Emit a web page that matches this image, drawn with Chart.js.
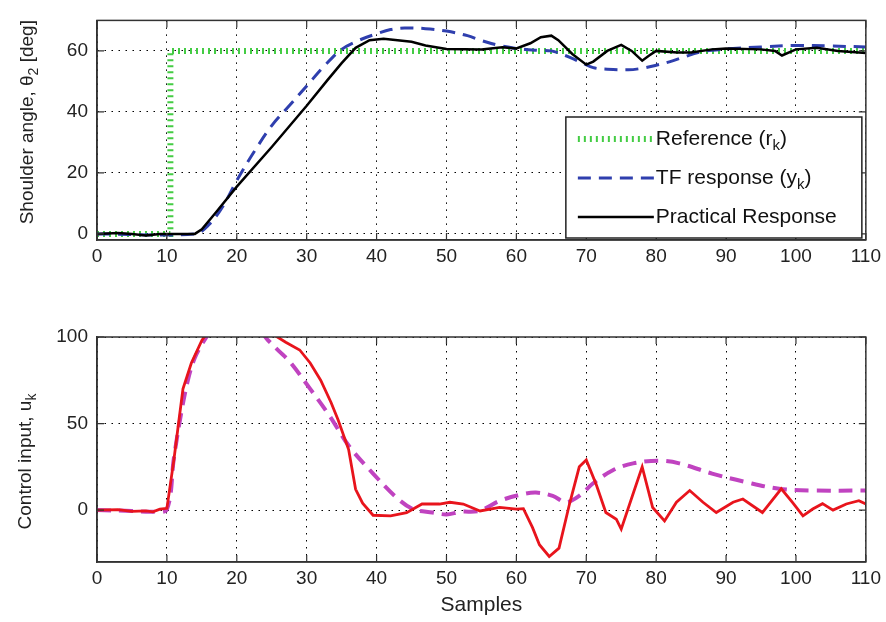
<!DOCTYPE html>
<html><head><meta charset="utf-8">
<script src="https://cdn.jsdelivr.net/npm/chart.js@4.4.0/dist/chart.umd.min.js"></script>
<style>
html,body{margin:0;padding:0;background:#fff;}
#wrap{position:relative;width:886px;height:622px;background:#fff;}
#c1{position:absolute;left:0;top:0;}
#c2{position:absolute;left:0;top:300px;}
</style></head><body>
<div id="wrap">
<canvas id="c1" width="886" height="300"></canvas>
<canvas id="c2" width="886" height="322"></canvas>
</div>
<script>
// ---------- data ----------
const sampleTicks = [0,10,20,30,40,50,60,70,80,90,100,110];
const angleTicks = [0,20,40,60];
const inputTicks = [0,50,100];

const refK   = [0,10.5,10.5,110];
const refVal = [0,0,60,60];

const tfK   = [0,14,16,18,20,22.5,25,27.5,30,32.5,35,37.5,40,42,44,47,50,53,55,57.5,60,63,65,67,69,71,73,76,78,80,82,84,86,88,91,95,100,105,110];
const tfVal = [0,0,3,9,17.5,27,35.5,42,48.5,55,60.5,63.5,65.6,67,67.5,67.3,66.5,65,63.4,61.8,60.8,60.2,60,58.5,56.5,54.5,54,53.8,54.3,55.3,56.5,58,59.5,60.2,60.8,61.3,61.8,61.6,61.3];

const pracK   = [0,3,5,7,9,12,14,15,17,20,25,30,33,35,37,39,41,43,45,47,50,55,58,60,62,63.5,65,66,68,70,71,73,75,76.5,78,79,80,83,85,88,90,95,97,98,100,103,106,110];
const pracVal = [0,0.3,0,-0.5,0,0,0,1.5,7,15.5,28.5,42,50.5,56,61,63.5,64,63.5,63,61.8,60.6,60.5,61.2,60.8,62.5,64.5,65,63.5,59,55.5,56.5,60,62,60,56.8,58.5,60,59.5,59.5,60.5,60.8,60.5,60,58.5,60.5,61,60,59.3];

const uPracK   = [0,3,5,7,8,9,10,10.5,11,11.6,12.3,13.5,15,16,24,25.4,27,29,30.5,32,33.5,34.5,36,37,38,39.5,42,44.3,46.5,49,50.5,52.4,54.8,57.6,60,61,62.3,63.3,64.7,66.1,67.6,69,70,71.4,72.8,74.3,75,76.7,78,79.5,81.2,82.9,84.8,86.7,88.6,91,92.4,95.2,97.9,99.5,101,102.4,103.8,105.3,107.2,109,110];
const uPracVal = [0,0.3,-0.8,-0.5,-1,0.5,1,15,29,48,70,85,98,104,104,101,97,92.5,85,75,62,52,35,12,4,-3,-3.3,-1.5,3.5,3.5,4.5,3.5,-0.5,1.6,0.6,0.8,-10,-20,-26.8,-22,3.5,25,28.9,15,-1.4,-5.3,-11,9.4,25,1.5,-6.3,4.5,11.3,4.5,-1.4,4.5,6.4,-1.4,12.3,4.5,-3.3,0.6,3.7,0,3.5,5.4,3.5];

const uTfK   = [0,5,8,10,11,12,13,14,15.5,16.5,23,24.5,26,27.6,30.5,33.3,36.1,39.5,42.8,45.2,48,50,52,54.7,57.6,60.5,62.8,65.2,67.1,69,70.9,73.8,76.7,80.4,83.3,88,92.8,97.6,102.4,110];
const uTfVal = [0,-0.5,-1,0.5,30,55,75,88,99,104,104,98,92,85.6,70,54.3,36.7,21.1,7.4,0.6,-1.4,-2.5,-1,-0.4,5.3,8.8,10.1,8.2,4.5,8.2,15.2,23,27,28.5,27,21.1,16.2,12.3,11.3,11.3];

const legendLabels = ['Reference (r_k)','TF response (y_k)','Practical Response'];
const topTitle = 'Shoulder angle, \u03b8_2 [deg]';
const bottomTitle = 'Control input, u_k';
const xTitle = 'Samples';

// ---------- helpers ----------
const FAMILY = "'Liberation Sans', Arial, sans-serif";
const pts = (xs, ys) => xs.map((x,i)=>({x, y: ys[i]}));
function parseRich(s){
  const out=[]; let buf='';
  for(let i=0;i<s.length;i++){
    if(s[i]==='_' && i+1<s.length){ if(buf){out.push({t:buf});buf='';} out.push({t:s[i+1],sub:true}); i++; }
    else buf+=s[i];
  }
  if(buf) out.push({t:buf});
  return out;
}
function richWidth(ctx, parts, size){
  let w=0;
  parts.forEach(p=>{ctx.font=(p.sub?Math.round(size*0.72):size)+'px '+FAMILY; w+=ctx.measureText(p.t).width;});
  return w;
}
function drawRich(ctx, parts, x, y, size){
  let cx=x;
  ctx.textBaseline='middle'; ctx.textAlign='left';
  parts.forEach(p=>{
    const fs = p.sub?Math.round(size*0.72):size;
    ctx.font=fs+'px '+FAMILY;
    ctx.fillText(p.t, cx, p.sub? y+size*0.32 : y);
    cx+=ctx.measureText(p.t).width;
  });
}

const frameTicks = {
  id:'frameTicks',
  afterDatasetsDraw(chart){
    const {ctx, chartArea:a, scales} = chart;
    ctx.save();
    ctx.setLineDash([]);
    ctx.strokeStyle='#333'; ctx.lineWidth=1.5;
    ctx.strokeRect(a.left, a.top, a.right-a.left, a.bottom-a.top);
    ctx.lineWidth=1.2;
    const L=7;
    scales.x.ticks.forEach(t=>{
      const px=scales.x.getPixelForValue(t.value);
      ctx.beginPath(); ctx.moveTo(px,a.bottom); ctx.lineTo(px,a.bottom-L);
      ctx.moveTo(px,a.top); ctx.lineTo(px,a.top+L); ctx.stroke();
    });
    scales.y.ticks.forEach(t=>{
      const py=scales.y.getPixelForValue(t.value);
      ctx.beginPath(); ctx.moveTo(a.left,py); ctx.lineTo(a.left+L,py);
      ctx.moveTo(a.right,py); ctx.lineTo(a.right-L,py); ctx.stroke();
    });
    ctx.restore();
  }
};

const yTitlePlugin = {
  id:'yTitle',
  afterDraw(chart, args, opts){
    if(!opts || !opts.text) return;
    const {ctx, chartArea:a} = chart;
    const parts = parseRich(opts.text);
    const size = opts.size;
    const w = richWidth(ctx, parts, size);
    ctx.save();
    ctx.fillStyle='#222';
    ctx.translate(opts.x, (a.top+a.bottom)/2 + (opts.dy||0));
    ctx.rotate(-Math.PI/2);
    drawRich(ctx, parts, -w/2, 0, size);
    ctx.restore();
  }
};

const boxLegend = {
  id:'boxLegend',
  afterDraw(chart, args, opts){
    if(!opts || !opts.items) return;
    const {ctx, chartArea:a} = chart;
    const right = a.right - opts.inset.right, bottom = a.bottom - opts.inset.bottom;
    const left = right - opts.width, top = bottom - opts.height;
    ctx.save();
    ctx.fillStyle='#fff'; ctx.fillRect(left, top, opts.width, opts.height);
    ctx.strokeStyle='#222'; ctx.lineWidth=1.5; ctx.setLineDash([]);
    ctx.strokeRect(left, top, opts.width, opts.height);
    opts.items.forEach((it, i)=>{
      const ds = chart.data.datasets[it.dataset];
      const y = top + opts.firstRow + i*opts.rowGap;
      ctx.save();
      ctx.strokeStyle = ds.borderColor; ctx.lineWidth = ds.borderWidth;
      ctx.setLineDash(ds.borderDash||[]);
      ctx.beginPath(); ctx.moveTo(left+opts.lineStart, y); ctx.lineTo(left+opts.lineEnd, y); ctx.stroke();
      ctx.restore();
      ctx.fillStyle='#111';
      drawRich(ctx, parseRich(it.label), left+opts.textStart, y, opts.size);
    });
    ctx.restore();
  }
};

function xScale(withTitle){
  return {
    type:'linear', min:0, max:110,
    afterBuildTicks: s => { s.ticks = sampleTicks.map(v=>({value:v})); },
    afterFit: s => { s.height = 60; },
    ticks:{ color:'#222', font:{family:FAMILY,size:19}, padding:5, maxRotation:0, autoSkip:false },
    grid:{ color:'#000', lineWidth:1, drawTicks:false },
    border:{ display:true, color:'#333', width:1.5, dash:[1.5,5.5] },
    title: withTitle ? { display:true, text:xTitle, color:'#222', font:{family:FAMILY,size:21}, padding:{top:0,bottom:4} } : {display:false}
  };
}
function yScale(min, max, ticksArr){
  return {
    type:'linear', min, max,
    afterBuildTicks: s => { s.ticks = ticksArr.map(v=>({value:v})); },
    afterFit: s => { s.width = 97; },
    ticks:{ color:'#222', font:{family:FAMILY,size:19}, padding:9 },
    grid:{ color:'#000', lineWidth:1, drawTicks:false },
    border:{ display:true, color:'#333', width:1.5, dash:[1.5,5.5] }
  };
}

const common = { responsive:false, animation:false, devicePixelRatio:1, events:[] };

new Chart(document.getElementById('c1'), {
  type:'line',
  data:{ datasets:[
    { label:'Practical Response', data:pts(pracK,pracVal), borderColor:'#000000', borderWidth:2.5, pointRadius:0, tension:0 },
    { label:'TF response', data:pts(tfK,tfVal), borderColor:'#2f3fae', borderWidth:3, borderDash:[13,8], pointRadius:0, tension:0.35 },
    { label:'Reference', data:pts(refK,refVal), borderColor:'#44cc44', borderWidth:6, borderDash:[2,4], pointRadius:0, tension:0 }
  ]},
  options:Object.assign({}, common, {
    layout:{ padding:{left:0, top:16, right:19, bottom:0} },
    scales:{ x:xScale(false), y:yScale(-2,70,angleTicks) },
    plugins:{
      legend:{display:false}, tooltip:{enabled:false},
      yTitle:{ text:topTitle, x:28, size:19, dy:-8 },
      boxLegend:{ items:[{dataset:2,label:legendLabels[0]},{dataset:1,label:legendLabels[1]},{dataset:0,label:legendLabels[2]}],
        inset:{right:4,bottom:2}, width:296, height:121, firstRow:22, rowGap:39, lineStart:12, lineEnd:88, textStart:90, size:21 }
    }
  }),
  plugins:[frameTicks, boxLegend, yTitlePlugin]
});

new Chart(document.getElementById('c2'), {
  type:'line',
  data:{ datasets:[
    { label:'Practical input', data:pts(uPracK,uPracVal), borderColor:'#e8141c', borderWidth:2.8, pointRadius:0, tension:0, clip:0 },
    { label:'TF input', data:pts(uTfK,uTfVal), borderColor:'#c043c0', borderWidth:4, borderDash:[14,8], pointRadius:0, tension:0.35, clip:0 }
  ]},
  options:Object.assign({}, common, {
    layout:{ padding:{left:0, top:37, right:19, bottom:0} },
    scales:{ x:xScale(true), y:yScale(-30,100,inputTicks) },
    plugins:{
      legend:{display:false}, tooltip:{enabled:false},
      yTitle:{ text:bottomTitle, x:26, size:19, dy:12 }
    }
  }),
  plugins:[frameTicks, yTitlePlugin]
});
</script>
</body></html>
